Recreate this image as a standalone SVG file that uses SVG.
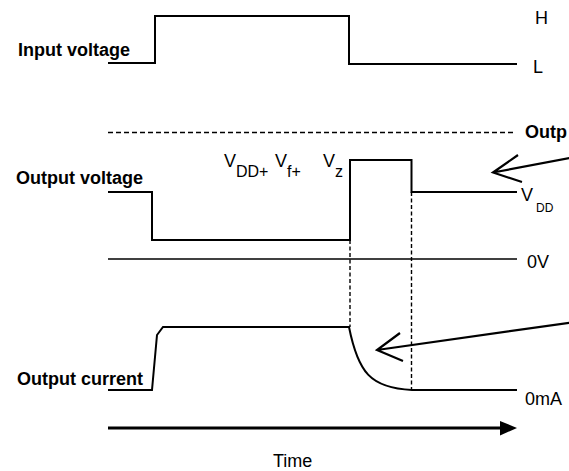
<svg xmlns="http://www.w3.org/2000/svg" width="569" height="471" viewBox="0 0 569 471">
<style>
.w{fill:none;stroke:#000;stroke-width:2;stroke-linejoin:miter}
.thin{fill:none;stroke:#000;stroke-width:1.6}
.dh{fill:none;stroke:#000;stroke-width:1.6;stroke-dasharray:5 3}
.dv{fill:none;stroke:#000;stroke-width:1.4;stroke-dasharray:4 2.5}
.ar{fill:none;stroke:#000;stroke-width:2.2;stroke-linecap:butt}
.lb{font-family:"Liberation Sans",Arial,sans-serif;font-size:18px;font-weight:bold;fill:#000}
.t{font-family:"Liberation Sans",Arial,sans-serif;font-size:18px;fill:#000}
.s{font-size:16px}
.ss{font-size:12px}
</style>
<rect width="569" height="471" fill="#fff"/>
<g id="input-voltage">
<path class="w" d="M108,63 H155 V16 H349 V64 H517"/>
<text class="lb" x="18" y="56">Input voltage</text>
<text class="t" x="535" y="24">H</text>
<text class="t" x="533" y="73">L</text>
</g>
<g id="output-limit">
<path class="dh" d="M108,132.5 H515"/>
<text class="lb" x="525" y="138">Outp</text>
</g>
<g id="output-voltage">
<path class="w" d="M108,192 H152 V240 H350 V160 H411.5 V192 H517"/>
<text class="lb" x="16" y="184">Output voltage</text>
<text class="t"><tspan x="224" y="167">V</tspan><tspan class="s" x="236" y="177">DD+</tspan><tspan x="275" y="167">V</tspan><tspan class="s" x="287" y="177">f+</tspan><tspan x="323" y="167">V</tspan><tspan class="s" x="335" y="177">z</tspan></text>
<text class="t"><tspan x="521" y="201">V</tspan><tspan class="ss" x="536" y="212">DD</tspan></text>
</g>
<g id="zero-volt">
<path class="thin" d="M108,259 H517"/>
<text class="t" x="527" y="268">0V</text>
</g>
<g id="output-current">
<path class="w" d="M108,390 H152 L157,335 L163,327 H349 C358,372 370,388 412,390 H517"/>
<text class="lb" x="17" y="385">Output current</text>
<text class="t" x="525" y="405">0mA</text>
</g>
<g id="connectors">
<path class="dv" d="M350,240 V327"/>
<path class="dv" d="M411.5,192 V390"/>
<path class="ar" d="M575,157 L493,172.5 M518,155 L493,172.5 L522,182"/>
<path class="ar" d="M575,322 L377,350 M400,333 L377,350 L403,361"/>
<path d="M108,428 H502" stroke="#000" stroke-width="3" fill="none"/>
<polygon points="500,421 517,428 500,435.5" fill="#000"/>
</g>
<g id="time-label">
<text class="t" x="273" y="467">Time</text>
</g>
</svg>
